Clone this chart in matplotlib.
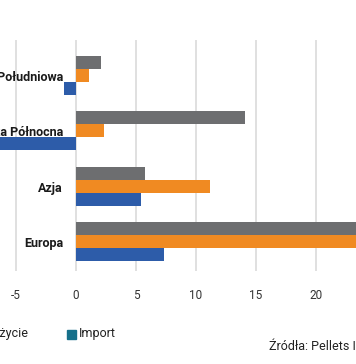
import matplotlib
matplotlib.use("Agg")
import matplotlib.pyplot as plt
import matplotlib.transforms as mtransforms
from matplotlib.patches import Rectangle

plt.rcParams['font.family'] = ['Roboto', 'DejaVu Sans']

# ---- data ----
categories = ["Ameryka Południowa", "Ameryka Północna", "Azja", "Europa"]
produkcja = [2.1, 14.05, 5.75, 25.5]
zuzycie = [1.1, 2.3, 11.2, 32.8]
import_ = [-1.0, -11.75, 5.4, 7.35]
series_names = ["Produkcja", "Zużycie", "Import"]
xticks = [-5, 0, 5, 10, 15, 20, 25, 30]
source = "Źródła: Pellets International"

c_gray = "#6d6e70"
c_orange = "#f08a22"
c_blue = "#2d5ca9"
c_teal = "#16708a"

W, H = 356, 364
fig = plt.figure(figsize=(W / 100, H / 100), dpi=100)
fig.patch.set_facecolor("white")

ax_top, ax_bot = 40, 271
ax = fig.add_axes([0, 1 - ax_bot / H, 1, (ax_bot - ax_top) / H])

bh = 0.235
ys = range(len(categories))
ax.barh([y - bh for y in ys], produkcja, height=bh, color=c_gray, zorder=3)
ax.barh([y for y in ys], zuzycie, height=bh, color=c_orange, zorder=3)
ax.barh([y + bh for y in ys], import_, height=bh, color=c_blue, zorder=3)

ax.set_xticks(xticks)
ax.set_xticklabels([str(t) for t in xticks])
ax.set_xlim((0 - 76) / 12, (W - 76) / 12)
ax.set_ylim(3.533, -0.64)
ax.tick_params(axis='x', length=0, pad=13, labelsize=8.5, labelcolor="#333333")
ax.set_yticks([])
for s in ax.spines.values():
    s.set_visible(False)
ax.grid(axis='x', color="#dddddd", linewidth=1.3, zorder=0)
ax.set_axisbelow(True)

# category labels right-aligned left of zero line
trans = mtransforms.offset_copy(ax.transData, fig=fig, x=-13, y=-2, units='dots')
for y, cat in zip(ys, categories):
    ax.text(0, y, cat, transform=trans, ha='right', va='center',
            fontsize=9, fontweight='bold', color="#1a1a1a", zorder=5)

# legend (manual, partly off-canvas like the reference)
leg_y = 1 - 334 / H
def fx(px):
    return px / W
sq = 9
items = [(series_names[0], c_gray, -125), (series_names[1], c_orange, -27), (series_names[2], c_teal, 67)]
for name, col, x0 in items:
    fig.patches.append(Rectangle((fx(x0), leg_y - (sq / 2) / H), sq / W, sq / H,
                                 transform=fig.transFigure, color=col, figure=fig))
    fig.text(fx(x0 + 12), leg_y, name, ha='left', va='center', fontsize=9, color="#222222")

fig.text(fx(269), 1 - 347 / H, source, ha='left', va='center', fontsize=9, color="#222222")

fig.savefig("out.png", dpi=100, facecolor="white")
